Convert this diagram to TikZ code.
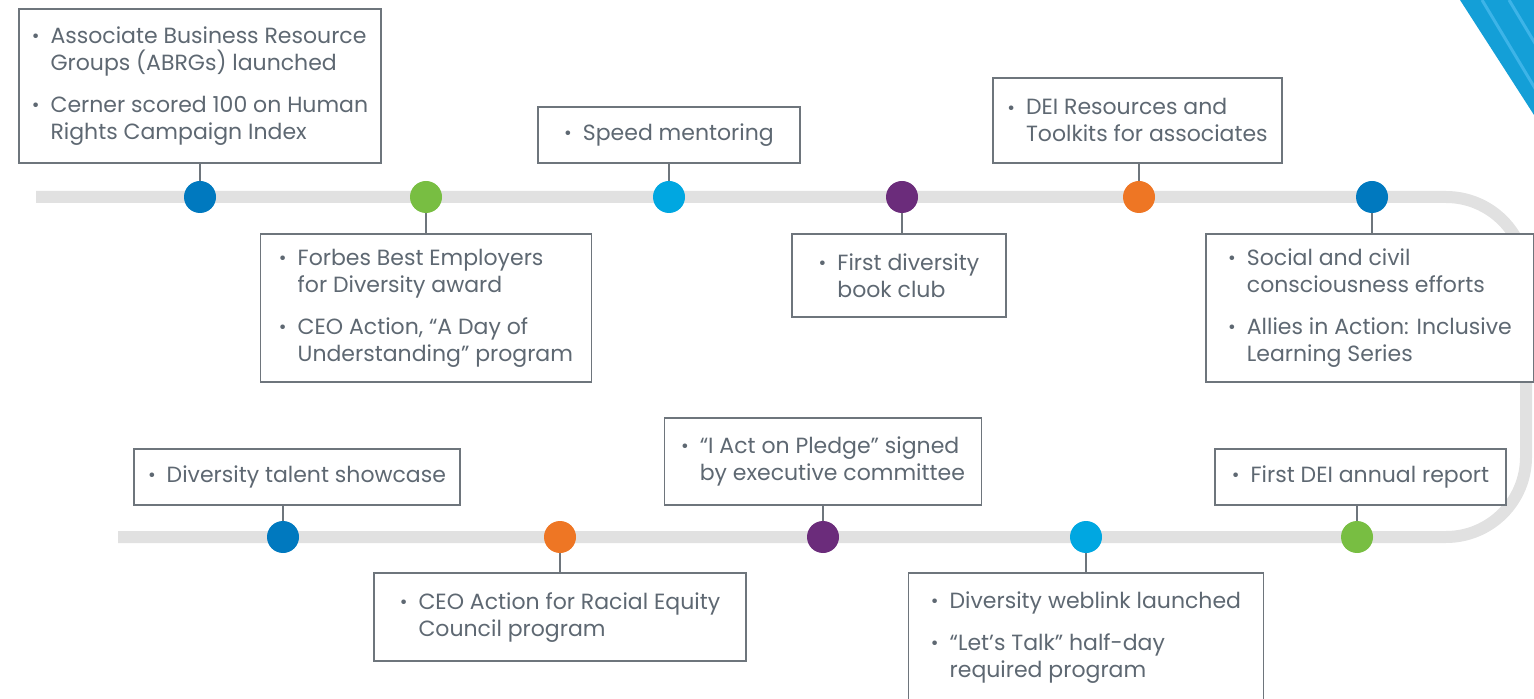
\documentclass[tikz,border=0pt]{standalone}
\usepackage{fontspec}
\setmainfont{Poppins}
\usetikzlibrary{positioning}
\definecolor{trackgray}{HTML}{E1E1E1}
\definecolor{linegray}{HTML}{6E757C}
\definecolor{textgray}{HTML}{5E6872}
\definecolor{dotblue}{HTML}{0079BF}
\definecolor{dotcyan}{HTML}{00A7E1}
\definecolor{dotgreen}{HTML}{78BE42}
\definecolor{dotpurple}{HTML}{6B2C7B}
\definecolor{dotorange}{HTML}{EE7624}
\definecolor{cornerblue}{HTML}{149FD7}
\definecolor{cornerstripe}{HTML}{3DB4E8}

\newcommand{\bul}{\makebox[.85em][l]{\raisebox{.03em}{\scalebox{.85}{\textbullet}}}}
\newcommand{\ind}{\hspace*{.85em}}

\begin{document}
\begin{tikzpicture}[%
    x=0.5pt, y=-0.5pt,          % one unit is one pixel of the layout
    node distance=8.5pt,        % gap between dot and its box
    ]
\tikzset{
  dot/.style={circle, fill=#1, minimum size=16pt, inner sep=0pt},
  event/.style={draw=linegray, line width=0.75pt, fill=white, align=left,
    text=textgray, inner sep=0pt, font=\fontsize{11}{13.5}\selectfont},
  stem/.style={draw=linegray, line width=0.75pt},
  track/.style={draw=trackgray, line width=6pt, rounded corners=40pt},
}
\useasboundingbox (0,0) rectangle (1534,699);

% corner mark
\fill[cornerblue] (1460,0) -- (1534,0) -- (1534,115) -- cycle;
\begin{scope}
  \clip (1460,0) -- (1534,0) -- (1534,115) -- cycle;
  \draw[cornerstripe, line width=1.5pt] (1482,0) -- ++(60,100);
  \draw[cornerstripe, line width=1.5pt] (1509,0) -- ++(60,100);
\end{scope}

% timeline
\draw[track] (36,197) -- (1526,197) -- (1526,537) -- (118,537);

\node [dot=dotblue]   (t1) at (200,197)  {};
\node [dot=dotgreen]  (t2) at (426,197)  {};
\node [dot=dotcyan]   (t3) at (669,197)  {};
\node [dot=dotpurple] (t4) at (902,197)  {};
\node [dot=dotorange] (t5) at (1139,197) {};
\node [dot=dotblue]   (t6) at (1372,197) {};

\node [dot=dotblue]   (b1) at (283,537)  {};
\node [dot=dotorange] (b2) at (560,537)  {};
\node [dot=dotpurple] (b3) at (823,537)  {};
\node [dot=dotcyan]   (b4) at (1086,537) {};
\node [dot=dotgreen]  (b5) at (1357,537) {};

% boxes, top row
\node [event, above=of t1, minimum width=181pt, minimum height=77pt] (e1)
  {\bul Associate Business Resource\\ \ind Groups (ABRGs) launched\\[7.5pt]
   \bul Cerner scored 100 on Human\\ \ind Rights Campaign Index};
\node [event, below=10pt of t2, minimum width=165.5pt, minimum height=74pt] (e2)
  {\bul Forbes Best Employers\\ \ind for Diversity award\\[7.5pt]
   \bul CEO Action, “A Day of\\ \ind Understanding” program};
\node [event, above=of t3, minimum width=131pt, minimum height=28pt] (e3)
  {\bul Speed mentoring};
\node [event, below=10pt of t4, xshift=-1.5pt, minimum width=107pt, minimum height=41.5pt] (e4)
  {\bul First diversity\\ \ind book club};
\node [event, above=of t5, xshift=-0.75pt, minimum width=144.5pt, minimum height=42.5pt] (e5)
  {\bul DEI Resources and\\ \ind Toolkits for associates};
\node [event, below=10pt of t6, xshift=-1pt, minimum width=164pt, minimum height=74pt] (e6)
  {\bul Social and civil\\ \ind consciousness efforts\\[7.5pt]
   \bul Allies in Action: Inclusive\\ \ind Learning Series};

% boxes, bottom row
\node [event, above=7.5pt of b1, xshift=7pt, minimum width=163pt, minimum height=28pt] (e7)
  {\bul Diversity talent showcase};
\node [event, below=9.5pt of b2, minimum width=186pt, minimum height=44pt] (e8)
  {\bul CEO Action for Racial Equity\\ \ind Council program};
\node [event, above=7.5pt of b3, minimum width=158.5pt, minimum height=43.5pt] (e9)
  {\bul “I Act on Pledge” signed\\ \ind by executive committee};
\node [event, below=9.5pt of b4, minimum width=177.5pt, minimum height=64pt] (e10)
  {\bul Diversity weblink launched\\[7.5pt]
   \bul “Let’s Talk” half-day\\ \ind required program};
\node [event, above=7.5pt of b5, xshift=1.75pt, minimum width=145.5pt, minimum height=28pt] (e11)
  {\bul First DEI annual report};

%connect
\draw [stem] (t1.north) -- (t1.north |- e1.south);
\draw [stem] (t2.south) -- (t2.south |- e2.north);
\draw [stem] (t3.north) -- (t3.north |- e3.south);
\draw [stem] (t4.south) -- (t4.south |- e4.north);
\draw [stem] (t5.north) -- (t5.north |- e5.south);
\draw [stem] (t6.south) -- (t6.south |- e6.north);
\draw [stem] (b1.north) -- (b1.north |- e7.south);
\draw [stem] (b2.south) -- (b2.south |- e8.north);
\draw [stem] (b3.north) -- (b3.north |- e9.south);
\draw [stem] (b4.south) -- (b4.south |- e10.north);
\draw [stem] (b5.north) -- (b5.north |- e11.south);

\end{tikzpicture}
\end{document}
